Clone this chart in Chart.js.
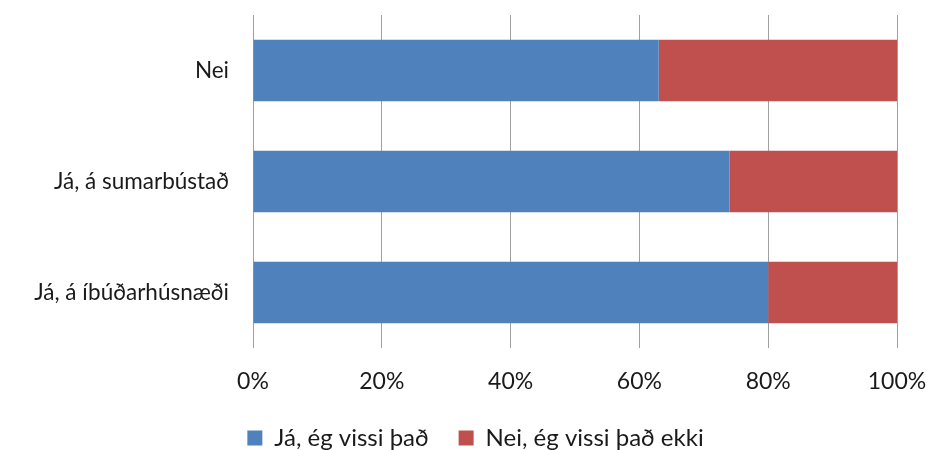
<!DOCTYPE html>
<html>
<head>
<meta charset="utf-8">
<script src="https://cdn.jsdelivr.net/npm/chart.js@4"></script>
<style>
  html, body { margin: 0; padding: 0; background: #fff; }
  #wrap { width: 927px; height: 450px; }
</style>
</head>
<body>
<div id="wrap"><canvas id="surveyChart" width="927" height="450"></canvas></div>
<script>
const categories = ["Nei", "Já, á sumarbústað", "Já, á íbúðarhúsnæði"];
const knewIt = [63, 74, 80];
const didNotKnow = [37, 26, 20];
const seriesNames = ["Já, ég vissi það", "Nei, ég vissi það ekki"];
const tickStep = 20;

const ctx = document.getElementById("surveyChart").getContext("2d");

// legend in the original sits a bit right of centre
const legendNudge = {
  id: "legendNudge",
  afterLayout(chart) {
    chart.legend.left += 27;
    chart.legend.right += 27;
  }
};

new Chart(ctx, {
  type: "bar",
  data: {
    labels: categories,
    datasets: [
      { label: seriesNames[0], data: knewIt, backgroundColor: "#4F81BD" },
      { label: seriesNames[1], data: didNotKnow, backgroundColor: "#C0504D" }
    ]
  },
  options: {
    indexAxis: "y",
    responsive: false,
    animation: false,
    datasets: { bar: { categoryPercentage: 1, barPercentage: 1 / 1.8 } },
    // negative bottom padding pulls the legend down toward the edge
    layout: { padding: { left: 0, right: 30, top: 15, bottom: -10 } },
    scales: {
      x: {
        stacked: true,
        min: 0,
        max: 100,
        border: { display: false },
        grid: { color: "#a0a0a0", lineWidth: 1, drawTicks: false },
        ticks: {
          stepSize: tickStep,
          padding: 20,
          color: "#1a1a1a",
          font: { family: "Lato", size: 23 },
          callback: v => v + "%"
        },
        afterFit: scale => {
          scale.height = 48;
          scale.paddingLeft = 0;
          scale.paddingRight = 0;
        }
      },
      y: {
        stacked: true,
        border: { display: false },
        grid: { display: false },
        ticks: {
          padding: 16,
          color: "#1a1a1a",
          font: { family: "Lato", size: 22.5 }
        },
        afterFit: scale => {
          scale.width = 253;
          scale.paddingTop = 0;
          scale.paddingBottom = 0;
        }
      }
    },
    plugins: {
      legend: {
        position: "bottom",
        labels: {
          color: "#1a1a1a",
          font: { family: "Lato", size: 24 },
          boxWidth: 15,
          boxHeight: 15,
          padding: 30
        }
      },
      tooltip: { enabled: false }
    }
  },
  plugins: [legendNudge]
});
</script>
</body>
</html>
